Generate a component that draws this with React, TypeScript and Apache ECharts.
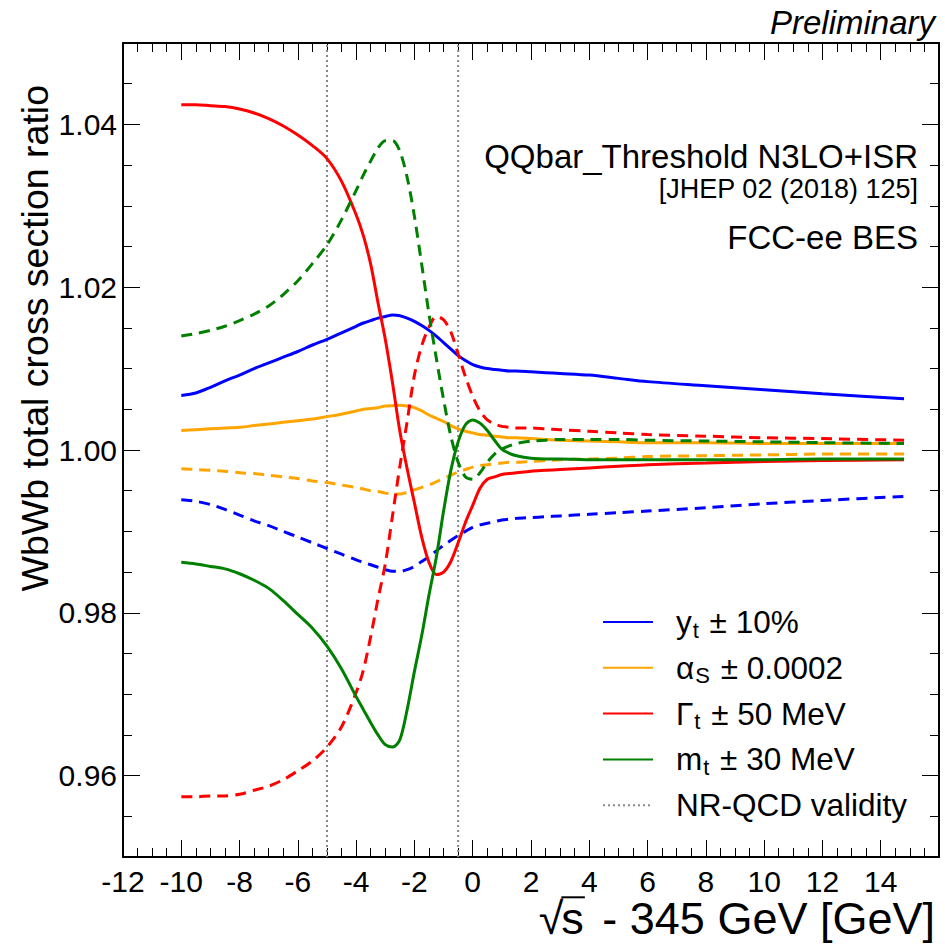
import React, { useEffect, useRef } from "react";
import * as echarts from "echarts";

// ---- data ----
const xs = [-10, -9.5, -9, -8.5, -8, -7.5, -7, -6.5, -6, -5.5, -5, -4.5, -4, -3.75, -3.5, -3.25, -3, -2.75, -2.5, -2.25, -2, -1.75, -1.5, -1.25, -1, -0.75, -0.5, -0.25, 0, 0.25, 0.5, 0.75, 1, 1.25, 1.5, 2, 2.5, 3, 4, 5, 6, 8, 10, 12, 14.8];

const ytUp = [1.0067, 1.007, 1.0077, 1.0085, 1.0092, 1.01, 1.0107, 1.0114, 1.0121, 1.0129, 1.0136, 1.0144, 1.0152, 1.0156, 1.0159, 1.0162, 1.0164, 1.0166, 1.0165, 1.0162, 1.0158, 1.0153, 1.0147, 1.014, 1.0132, 1.0124, 1.0116, 1.011, 1.0105, 1.0102, 1.01, 1.0099, 1.0098, 1.0097, 1.0097, 1.0096, 1.0095, 1.0094, 1.0092, 1.0088, 1.0084, 1.0079, 1.0074, 1.0069, 1.0063];
const ytDown = [0.9939, 0.9937, 0.9933, 0.9927, 0.992, 0.9913, 0.9907, 0.99, 0.9893, 0.9886, 0.9879, 0.9872, 0.9865, 0.9862, 0.9859, 0.9856, 0.9853, 0.9851, 0.9851, 0.9853, 0.9857, 0.9863, 0.9869, 0.9876, 0.9883, 0.9889, 0.9895, 0.99, 0.9905, 0.9908, 0.991, 0.9912, 0.9914, 0.9915, 0.9916, 0.9917, 0.9918, 0.9919, 0.9921, 0.9923, 0.9925, 0.9929, 0.9934, 0.9938, 0.9943];
const asUp = [1.0024, 1.0025, 1.0026, 1.0027, 1.0028, 1.003, 1.0032, 1.0034, 1.0036, 1.0038, 1.0041, 1.0044, 1.0048, 1.005, 1.0051, 1.0052, 1.0054, 1.00545, 1.0055, 1.0054, 1.0052, 1.0048, 1.0043, 1.0039, 1.0035, 1.003, 1.0026, 1.0023, 1.0021, 1.0019, 1.0018, 1.0017, 1.0016, 1.0015, 1.0015, 1.0014, 1.0013, 1.0012, 1.0011, 1.001, 1.0009, 1.0009, 1.0008, 1.0008, 1.0008];
const asDown = [0.9977, 0.9976, 0.9975, 0.9974, 0.9972, 0.9971, 0.9969, 0.9967, 0.9965, 0.9962, 0.996, 0.9957, 0.9954, 0.9952, 0.995, 0.9949, 0.9947, 0.9946, 0.9946, 0.9948, 0.9951, 0.9954, 0.9957, 0.9961, 0.9965, 0.9969, 0.9973, 0.9976, 0.9979, 0.9981, 0.9982, 0.9983, 0.9984, 0.9985, 0.9985, 0.9986, 0.9987, 0.9988, 0.9989, 0.999, 0.9992, 0.9993, 0.9994, 0.9995, 0.9995];
const gtUp = [1.0424, 1.0424, 1.0423, 1.0422, 1.0419, 1.0414, 1.0407, 1.0398, 1.0387, 1.0374, 1.0358, 1.033, 1.0289, 1.0263, 1.0228, 1.0181, 1.0136, 1.0082, 1.0023, 0.9977, 0.9935, 0.9893, 0.9862, 0.9847, 0.985, 0.9863, 0.9886, 0.9911, 0.9932, 0.9953, 0.9964, 0.9967, 0.997, 0.9971, 0.9972, 0.9974, 0.9975, 0.9976, 0.9978, 0.998, 0.9982, 0.9984, 0.9986, 0.9987, 0.9988];
const gtDown = [0.9574, 0.9574, 0.9575, 0.9575, 0.9577, 0.9582, 0.9587, 0.9595, 0.9606, 0.9618, 0.9635, 0.966, 0.9702, 0.973, 0.9771, 0.9817, 0.986, 0.992, 0.998, 1.0035, 1.0092, 1.0128, 1.0151, 1.0164, 1.016, 1.0145, 1.0118, 1.009, 1.0066, 1.0048, 1.0037, 1.0032, 1.0029, 1.0028, 1.0027, 1.0027, 1.0026, 1.0025, 1.0023, 1.0021, 1.0019, 1.0017, 1.0015, 1.0014, 1.0012];
const mtUp = [0.9862, 0.986, 0.9857, 0.9854, 0.9848, 0.984, 0.983, 0.9815, 0.9798, 0.9781, 0.9759, 0.9731, 0.9697, 0.9681, 0.9665, 0.965, 0.9638, 0.9635, 0.9644, 0.9681, 0.9728, 0.9772, 0.9822, 0.9868, 0.9925, 0.9975, 1.001, 1.0031, 1.0037, 1.0033, 1.0024, 1.0012, 1.0001, 0.9996, 0.9993, 0.999, 0.9989, 0.9989, 0.9988, 0.9988, 0.9988, 0.9988, 0.9988, 0.9989, 0.9989];
const mtDown = [1.014, 1.0143, 1.0147, 1.0152, 1.0159, 1.0167, 1.0177, 1.0191, 1.0208, 1.0229, 1.0252, 1.0283, 1.0319, 1.0338, 1.0355, 1.0371, 1.038, 1.038, 1.0367, 1.0335, 1.0287, 1.0228, 1.0167, 1.0113, 1.0062, 1.0017, 0.9985, 0.9967, 0.9964, 0.9972, 0.9985, 0.9995, 1.0001, 1.0005, 1.0008, 1.0011, 1.0012, 1.0013, 1.0013, 1.0013, 1.0012, 1.0011, 1.001, 1.0009, 1.0008];

const nrqcdBounds = [-5, -0.5];

const xMin = -12;
const xMax = 16;
const xStep = 2;
const yMin = 0.95;
const yMax = 1.05;
const yMajorTicks = [0.96, 0.98, 1.0, 1.02, 1.04];
const yMinorStep = 0.005;

const FONT = "'Liberation Sans', Arial, Helvetica, sans-serif";

const COLORS = { yt: "#0000ff", as: "#ffa500", gt: "#ff0000", mt: "#008000" };

const legendText: Record<string, string> = {
  yt: "{sp| }{m|y}{sub|t}{m| ± 10%}",
  as: "{sp| }{m|α}{sub|S}{m| ± 0.0002}",
  gt: "{sp| }{m|Γ}{sub|t}{m| ± 50 MeV}",
  mt: "{sp| }{m|m}{sub|t}{m| ± 30 MeV}",
  nr: "{sp| }{m|NR-QCD validity}",
};

function measure(t: string, size: number, style = "") {
  const c = document.createElement("canvas").getContext("2d");
  if (!c) return t.length * size * 0.55;
  c.font = `${style}${size}px ${FONT}`;
  return c.measureText(t).width;
}

export default function App() {
  const ref = useRef<HTMLDivElement>(null);
  useEffect(() => {
    if (!ref.current) return;
    const chart = echarts.init(ref.current, undefined, { renderer: "svg" });

    const pts = (arr: number[]) => xs.map((x, i) => [x, arr[i]]);
    const dash = [11, 7];
    const mk = (name: string, arr: number[], color: string, dashed: boolean) => ({
      name,
      type: "line",
      data: pts(arr),
      symbol: "none",
      showSymbol: false,
      smooth: 0.3,
      silent: true,
      lineStyle: { color, width: 3, type: dashed ? dash : "solid" },
      itemStyle: { color },
      z: 3,
    });

    const nrData: any[] = [];
    nrqcdBounds.forEach((b, i) => {
      if (i > 0) nrData.push([b, "-"]);
      nrData.push([b, yMin]);
      nrData.push([b, yMax]);
    });

    const yMinorTicks: number[] = [];
    for (let k = 0; yMin + k * yMinorStep <= yMax + 1e-9; k++) {
      yMinorTicks.push(Number((yMin + k * yMinorStep).toFixed(4)));
    }

    const axisLineStyle = { color: "#000", width: 2 };
    const tickStyle = { color: "#000", width: 1 };

    const xBase = (pos: "bottom" | "top", labels: boolean) => ({
      type: "value",
      position: pos,
      min: xMin,
      max: xMax,
      interval: xStep,
      axisLine: { show: true, onZero: false, lineStyle: axisLineStyle },
      axisTick: { show: true, inside: true, length: 17, lineStyle: tickStyle },
      minorTick: { show: true, splitNumber: 4, length: 9, lineStyle: tickStyle },
      splitLine: { show: false },
      minorSplitLine: { show: false },
      axisLabel: {
        show: labels,
        color: "#000",
        fontSize: 30,
        lineHeight: 28,
        fontFamily: FONT,
        margin: 10,
        formatter: (v: number) => (v === xMax ? "" : String(v)),
      },
    });

    const yBase = (pos: "left" | "right", major: boolean, labels: boolean) => ({
      type: "value",
      position: pos,
      min: yMin,
      max: yMax,
      axisLine: { show: major, onZero: false, lineStyle: axisLineStyle },
      axisTick: {
        show: true,
        inside: true,
        length: major ? 17 : 9,
        customValues: major ? yMajorTicks : yMinorTicks,
        lineStyle: tickStyle,
      },
      splitLine: { show: false },
      axisLabel: {
        show: labels,
        customValues: yMajorTicks,
        color: "#000",
        fontSize: 30,
        fontFamily: FONT,
        margin: 6,
        formatter: (v: number) => v.toFixed(2),
      },
    });

    // x-axis title pieces
    const xtFs = 45;
    const R = 935;
    const yC = 918;
    const gap = 6;
    const rest = " - 345 GeV [GeV]";
    const wRest = measure(rest, xtFs);
    const wS = measure("s", xtFs);
    const sRight = R - wRest - gap;
    const txt = (text: string, x: number, y: number, size: number, align: string, extra: any = {}) => ({
      type: "text",
      x,
      y,
      silent: true,
      ...extra,
      style: {
        text,
        fill: "#000",
        fontSize: size,
        fontFamily: FONT,
        align,
        textAlign: align,
        verticalAlign: "middle",
        textVerticalAlign: "middle",
        ...(extra.style || {}),
      },
    });

    const option: any = {
      animation: false,
      backgroundColor: "#fff",
      grid: { left: 123, top: 43, right: 6, bottom: 87, containLabel: false, outerBoundsMode: "none" },
      xAxis: [xBase("bottom", true), xBase("top", false)],
      yAxis: [yBase("left", true, true), yBase("left", false, false), yBase("right", true, false), yBase("right", false, false)],
      legend: {
        data: ["yt", "as", "gt", "mt", "nr"],
        orient: "vertical",
        left: 602,
        top: 606,
        padding: 0,
        itemWidth: 50,
        itemHeight: 14,
        itemGap: 10.8,
        selectedMode: false,
        itemStyle: { opacity: 0 },
        formatter: (name: string) => legendText[name],
        textStyle: {
          color: "#000",
          fontFamily: FONT,
          fontSize: 31,
          rich: {
            sp: { width: 18, fontSize: 10 },
            m: { fontSize: 31.5, fontFamily: FONT, color: "#000", lineHeight: 34 },
            sub: { fontSize: 22, fontFamily: FONT, color: "#000", padding: [16, 2, 0, 1] },
          },
        },
      },
      series: [
        mk("yt", ytUp, COLORS.yt, false),
        mk("yt-", ytDown, COLORS.yt, true),
        mk("as", asUp, COLORS.as, false),
        mk("as-", asDown, COLORS.as, true),
        mk("gt", gtUp, COLORS.gt, false),
        mk("gt-", gtDown, COLORS.gt, true),
        mk("mt", mtUp, COLORS.mt, false),
        mk("mt-", mtDown, COLORS.mt, true),
        {
          name: "nr",
          type: "line",
          data: nrData,
          symbol: "none",
          showSymbol: false,
          connectNulls: false,
          silent: true,
          lineStyle: { color: "#888888", width: 2, type: [2, 3] },
          itemStyle: { color: "#888888" },
          z: 2,
        },
      ],
      graphic: {
        elements: [
          txt("Preliminary", 935, 22, 33, "right", { style: { fontStyle: "italic" } }),
          txt("QQbar_Threshold N3LO+ISR", 918, 156, 33, "right"),
          txt("[JHEP 02 (2018) 125]", 918, 189, 27, "right"),
          txt("FCC-ee BES", 918, 237, 33, "right"),
          txt("WbWb total cross section ratio", 35, 85, 37.5, "right", { rotation: Math.PI / 2 }),
          txt(rest, R, yC, xtFs, "right", { style: { lineHeight: 34 } }),
          txt("s", sRight, yC, xtFs, "right", { style: { lineHeight: 34 } }),
          txt("√", sRight - wS + 2, yC, xtFs, "right", { style: { lineHeight: 34 } }),
          {
            type: "line",
            silent: true,
            shape: { x1: sRight - wS, y1: yC - 0.46 * xtFs, x2: sRight + 1, y2: yC - 0.46 * xtFs },
            style: { stroke: "#000", lineWidth: 2 },
          },
        ],
      },
    };

    chart.setOption(option);
    return () => chart.dispose();
  }, []);

  return (
    <div
      ref={ref}
      style={{ position: "absolute", left: 0, top: 0, width: 945, height: 944, background: "#fff" }}
    />
  );
}
